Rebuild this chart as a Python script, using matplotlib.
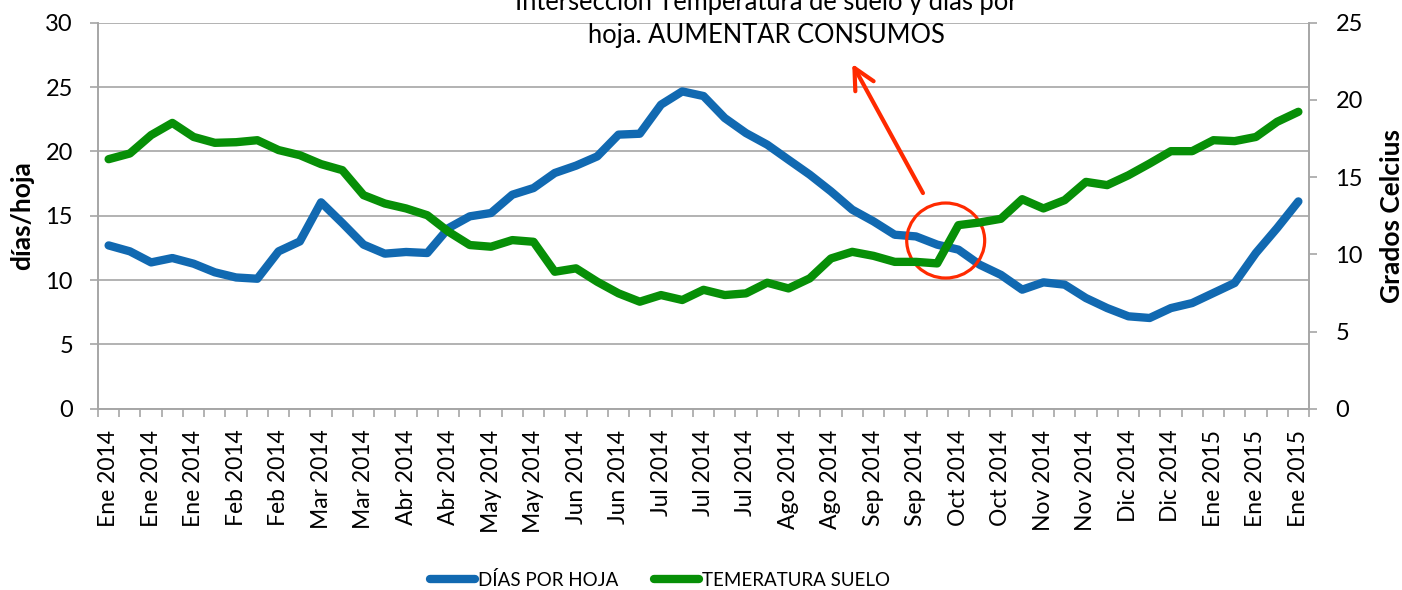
import matplotlib
matplotlib.use("Agg")
import matplotlib.pyplot as plt
from matplotlib.patches import Ellipse
import numpy as np

plt.rcParams['font.family'] = ['Lato', 'DejaVu Sans']

# ---- data ----
tick_labels = ["Ene 2014", "Ene 2014", "Ene 2014", "Feb 2014", "Feb 2014", "Mar 2014",
               "Mar 2014", "Abr 2014", "Abr 2014", "May 2014", "May 2014", "Jun 2014",
               "Jun 2014", "Jul 2014", "Jul 2014", "Jul 2014", "Ago 2014", "Ago 2014",
               "Sep 2014", "Sep 2014", "Oct 2014", "Oct 2014", "Nov 2014", "Nov 2014",
               "Dic 2014", "Dic 2014", "Ene 2015", "Ene 2015", "Ene 2015"]

dias_por_hoja = [12.69, 12.23, 11.37, 11.71, 11.27, 10.6, 10.2, 10.1, 12.23, 13.0,
                 16.04, 14.43, 12.75, 12.05, 12.18, 12.1, 14.04, 14.95, 15.21, 16.63,
                 17.15, 18.32, 18.89, 19.61, 21.3, 21.37, 23.63, 24.66, 24.3, 22.59,
                 21.42, 20.52, 19.35, 18.19, 16.89, 15.47, 14.56, 13.52, 13.39, 12.75,
                 12.36, 11.19, 10.4, 9.25, 9.82, 9.64, 8.6, 7.82, 7.18, 7.05,
                 7.82, 8.21, 8.99, 9.77, 12.1, 14.04, 16.11]

temperatura_suelo = [16.16, 16.53, 17.72, 18.51, 17.6, 17.22, 17.26, 17.39, 16.75, 16.42,
                     15.84, 15.45, 13.83, 13.29, 12.97, 12.53, 11.46, 10.6, 10.49, 10.92,
                     10.81, 8.87, 9.09, 8.22, 7.47, 6.93, 7.36, 7.04, 7.7, 7.36,
                     7.47, 8.16, 7.79, 8.44, 9.73, 10.16, 9.9, 9.51, 9.51, 9.41,
                     11.89, 12.06, 12.3, 13.57, 12.97, 13.51, 14.69, 14.48, 15.12, 15.88,
                     16.68, 16.68, 17.39, 17.33, 17.6, 18.58, 19.23]

series_names = ["DÍAS POR HOJA", "TEMERATURA SUELO"]
annot_lines = ["Intersección Temperatura de suelo y días por", "hoja. AUMENTAR CONSUMOS"]

BLUE = '#1169B1'
GREEN = '#078F07'
RED = '#FF2A00'
GRID = '#A6A6A6'

W, H = 1402, 590
fig = plt.figure(figsize=(W / 100, H / 100), dpi=100)
ax = fig.add_axes([98 / W, 1 - 408.7 / H, (1309 - 98) / W, (408.7 - 22.7) / H])
ax2 = ax.twinx()

n = len(dias_por_hoja)
x = np.arange(n)

l1, = ax.plot(x, dias_por_hoja, color=BLUE, lw=6, solid_capstyle='round',
              solid_joinstyle='round', label=series_names[0], zorder=3)
l2, = ax2.plot(x, temperatura_suelo, color=GREEN, lw=6, solid_capstyle='round',
               solid_joinstyle='round', label=series_names[1], zorder=3)

ax.set_xlim(-0.5, n - 0.5)
ax.set_ylim(0, 30)
ax2.set_ylim(0, 25)
ax.set_yticks(np.arange(0, 31, 5))
ax2.set_yticks(np.arange(0, 26, 5))

ax.yaxis.grid(True, color=GRID, lw=1.2)
ax.set_axisbelow(True)

# x ticks: marks between categories, labels every 2nd category
ax.set_xticks(np.arange(-0.5, n, 1.0))
ax.set_xticklabels([])
ax.tick_params(axis='x', which='major', direction='out', length=6, width=1.2, color=GRID)
ax.set_xticks(x[::2], minor=True)
ax.set_xticklabels(tick_labels, minor=True, rotation=90, fontsize=16.5)
ax.tick_params(axis='x', which='minor', length=0, pad=15)

ax.tick_params(axis='y', direction='out', length=6, width=1.2, color=GRID, labelsize=17, pad=12)
ax2.tick_params(axis='y', direction='out', length=6, width=1.2, color=GRID, labelsize=17, pad=13)

for a in (ax, ax2):
    a.spines['top'].set_visible(False)
    for s in ('left', 'right', 'bottom'):
        a.spines[s].set_color(GRID)
        a.spines[s].set_linewidth(1.2)

ax.set_ylabel('días/hoja', fontsize=19, fontweight='bold', labelpad=8)
ax2.set_ylabel('Grados Celcius', fontsize=19, fontweight='bold', labelpad=12)

# annotation: circle and arrow
ell = Ellipse((39.4, 13.07), width=3.67, height=5.83, fill=False, edgecolor=RED,
              lw=2.3, zorder=5)
ax.add_patch(ell)
ax.annotate('', xy=(35.0, 26.8), xytext=(38.33, 16.76),
            arrowprops=dict(arrowstyle='->,head_length=1.5,head_width=0.75',
                            color=RED, lw=3, shrinkA=0, shrinkB=0, mutation_scale=10),
            zorder=6)

fig.text(766 / W, 1 - 10 / H, annot_lines[0], ha='center', va='baseline', fontsize=18.4)
fig.text(766 / W, 1 - 43 / H, annot_lines[1], ha='center', va='baseline', fontsize=18.4)

fig.legend([l1, l2], series_names, loc='center', bbox_to_anchor=(660 / W, 1 - 580 / H),
           ncol=2, frameon=False, fontsize=13.5, handlelength=2.4, handletextpad=0.15,
           columnspacing=1.9)

fig.savefig('out.png', dpi=100)
